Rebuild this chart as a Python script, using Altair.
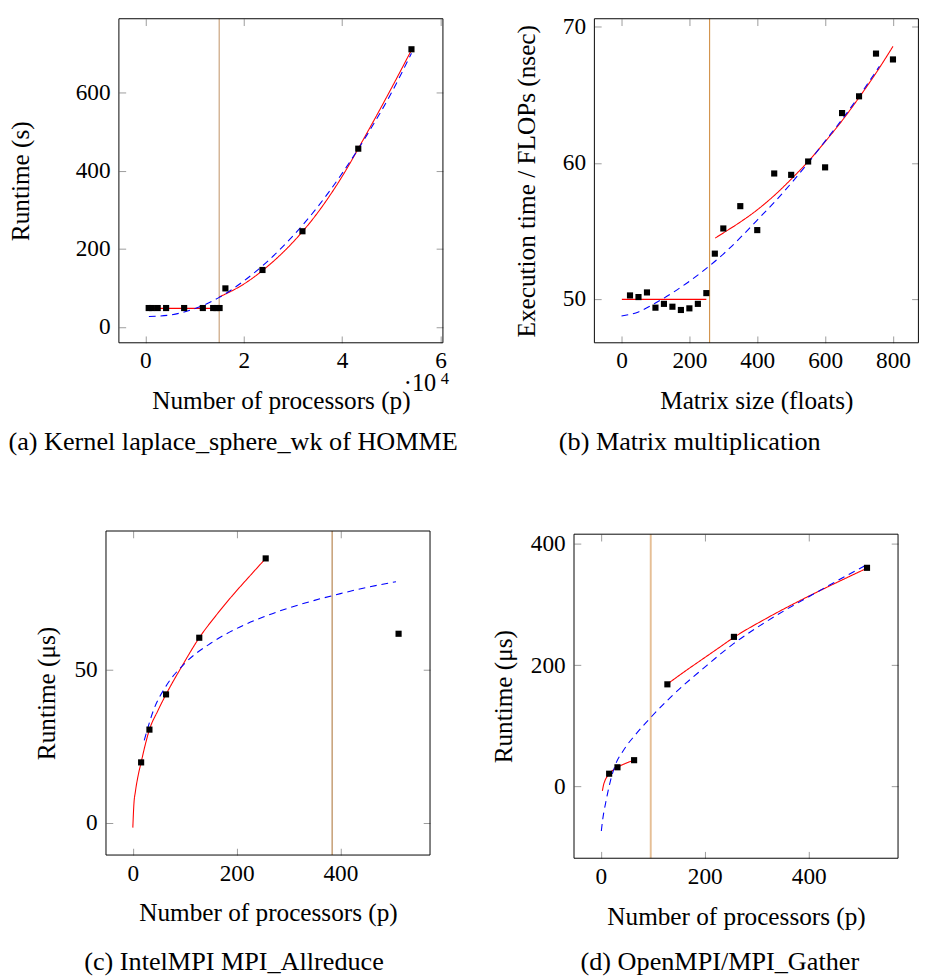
import altair as alt
import pandas as pd

FONT = "Liberation Serif"
LBL = 24
TTL = 26
CAP = 27
RED = "#ff0000"
BLUE = "#0000ff"

# ---------------- (a) Kernel laplace_sphere_wk of HOMME ----------------
a_proc = [660, 1310, 2490, 4200, 7870, 11670, 13770, 14430, 15080, 16260, 23800, 31930, 43280, 54100]
a_time = [48.8, 48.8, 48.8, 48.8, 48.8, 48.8, 48.8, 48.8, 48.8, 99, 146, 245, 456, 710]
a_fit1_x = [660, 15000]
a_fit1_y = [48, 48]
a_fit2_x = [15000, 20000, 25000, 30000, 35000, 40000, 45000, 50000, 54100]
a_fit2_y = [77, 110, 157, 217, 292, 385, 495, 610, 708]
a_model_x = [700, 5000, 10000, 15000, 20000, 25000, 30000, 35000, 40000, 45000, 50000, 54100]
a_model_y = [27, 31, 47, 76, 118, 170, 233, 307, 393, 490, 598, 700]
a_break = 15000

# ---------------- (b) Matrix multiplication ----------------
b_size = [25, 50, 75, 100, 125, 150, 175, 200, 225, 250, 275, 300, 350, 400, 450, 500, 550, 600, 650, 700, 750, 800]
b_time = [50.26, 50.14, 50.48, 49.36, 49.64, 49.43, 49.19, 49.31, 49.64, 50.43, 53.33, 55.18, 56.82, 55.06,
          59.22, 59.12, 60.10, 59.67, 63.66, 64.89, 68.03, 67.60]
b_fit1_x = [1, 250]
b_fit1_y = [49.97, 49.97]
b_fit2_x = [276, 300, 350, 400, 450, 500, 550, 600, 650, 700, 750, 800]
b_fit2_y = [54.47, 54.85, 55.65, 56.55, 57.6, 58.8, 60.1, 61.55, 63.1, 64.8, 66.6, 68.56]
b_model_x = [0, 50, 100, 150, 200, 250, 300, 350, 400, 450, 500, 550, 600, 650, 700, 760]
b_model_y = [48.75, 49.05, 49.7, 50.45, 51.3, 52.25, 53.3, 54.5, 55.8, 57.1, 58.5, 60.0, 61.6, 63.2, 64.9, 67.1]
b_break = 259.5

# ---------------- (c) IntelMPI MPI_Allreduce ----------------
c_proc = [16, 32, 64, 128, 256, 512]
c_time = [19.7, 30.4, 41.9, 60.4, 86.3, 61.7]
c_fit_x = [0, 2, 5, 10, 16, 24, 32, 48, 64, 96, 128, 160, 192, 224, 256]
c_fit_y = [-1.6, 5.9, 10.2, 15.2, 19.7, 25.5, 30.4, 36.5, 41.9, 51.5, 60.4, 67.6, 74.2, 80.3, 86.3]
c_model_x = [22, 40, 64, 100, 150, 200, 250, 300, 350, 400, 450, 507]
c_model_y = [26.9, 36.8, 44.6, 52.0, 58.6, 63.4, 67.1, 70.1, 72.6, 74.8, 76.8, 78.7]
c_break = 384

# ---------------- (d) OpenMPI/MPI_Gather ----------------
d_proc = [16, 32, 64, 128, 256, 512]
d_time = [21.3, 31.9, 43.6, 168.6, 246.8, 360.6]
d_fit1_x = [3, 5, 8, 12, 16, 24, 32, 48, 64]
d_fit1_y = [-7, 2, 10, 16.5, 21.3, 27.5, 31.9, 38.5, 43.6]
d_fit2_x = [128, 160, 192, 224, 256, 320, 384, 448, 512]
d_fit2_y = [169, 189, 208, 227, 246, 278, 307, 334, 360]
d_model_x = [1, 3, 6, 9, 13, 18, 24, 31, 40, 50, 64, 81, 96, 135, 200, 256, 300, 353, 400, 450, 510]
d_model_y = [-73, -58, -41, -28, -11, 8, 26, 42, 55, 68, 83, 100, 114, 148, 197, 236, 262, 290, 313, 337, 365]
d_break = 96

FRAME = 334  # plot frame size in px


def line_table(fits, model):
    rows = []
    for i, (xs, ys) in enumerate(fits):
        for xv, yv in zip(xs, ys):
            rows.append({"x": xv, "y": yv, "series": "fit", "seg": "f%d" % i})
    for xv, yv in zip(*model):
        rows.append({"x": xv, "y": yv, "series": "model", "seg": "m"})
    return pd.DataFrame(rows)


def panel(px, py, fits, model, vline, vcolor, vwidth, xframe, yframe, xticks, yticks,
          xtitle, ytitle, ytitle_pad, caption, caption_dx, caption_off, extra_left=0.0, extra_top=0.0,
          xlabel_expr=None, extra=()):
    xu = (xframe[1] - xframe[0]) / FRAME
    yu = (yframe[1] - yframe[0]) / FRAME
    xdom = [xframe[0] - extra_left * xu, xframe[1]]
    ydom = [yframe[0], yframe[1] + extra_top * yu]
    W = FRAME + extra_left
    H = FRAME + extra_top
    xs = alt.Scale(domain=xdom, nice=False, zero=False)
    ys = alt.Scale(domain=ydom, nice=False, zero=False)
    tick = dict(tickSize=7, tickColor="#9a9a9a", tickWidth=1, domain=False, grid=False)
    xb = dict(orient="bottom", offset=-7, values=xticks, title=xtitle, labelFontSize=LBL,
              labelPadding=7, labelColor="black", titleFontSize=TTL,
              titleFontWeight="normal", titleColor="black", titlePadding=16,
              titleX=extra_left + FRAME / 2, **tick)
    if xlabel_expr:
        xb["labelExpr"] = xlabel_expr
    yl = dict(orient="left", offset=-(7 + extra_left), values=yticks, title=ytitle, labelFontSize=LBL,
              labelPadding=9, labelColor="black", titleFontSize=TTL,
              titleFontWeight="normal", titleColor="black", titlePadding=ytitle_pad,
              titleY=extra_top + FRAME / 2, **tick)
    xt = dict(orient="top", offset=-(7 + extra_top), values=xticks, labels=False, title=None, **tick)
    yr = dict(orient="right", offset=-7, values=yticks, labels=False, title=None, **tick)

    fr = pd.DataFrame({"x1": [xframe[0]], "x2": [xframe[1]], "y1": [yframe[0]], "y2": [yframe[1]],
                       "v": [vline]})
    frame = alt.Chart(fr).mark_rect(filled=False, stroke="black", strokeWidth=1).encode(
        x=alt.X("x1:Q", scale=xs, axis=None), x2="x2:Q",
        y=alt.Y("y1:Q", scale=ys, axis=None), y2="y2:Q")
    rule = alt.Chart(fr).mark_rule(color=vcolor, strokeWidth=vwidth).encode(
        x=alt.X("v:Q", scale=xs, axis=alt.Axis(**xt)),
        y=alt.Y("y1:Q", scale=ys, axis=None), y2="y2:Q")
    lines = alt.Chart(line_table(fits, model)).mark_line(strokeWidth=1.1, interpolate="monotone").encode(
        x=alt.X("x:Q", scale=xs, axis=alt.Axis(**xb)),
        y=alt.Y("y:Q", scale=ys, axis=alt.Axis(**yl)),
        color=alt.Color("series:N", scale=alt.Scale(domain=["fit", "model"], range=[RED, BLUE]), legend=None),
        strokeDash=alt.StrokeDash("series:N", scale=alt.Scale(domain=["fit", "model"], range=[[1, 0], [7, 5]]),
                                  legend=None),
        detail="seg:N",
    )
    pts = alt.Chart(pd.DataFrame({"x": px, "y": py})).mark_square(size=40, color="black", opacity=1).encode(
        x=alt.X("x:Q", scale=xs, axis=None),
        y=alt.Y("y:Q", scale=ys, axis=alt.Axis(**yr)),
    )
    return alt.layer(rule, lines, pts, frame, *extra).properties(
        width=W, height=H,
        title=alt.Title(caption, orient="bottom", anchor="middle", frame="group",
                        fontSize=CAP, fontWeight="normal", color="black", offset=caption_off, dx=caption_dx),
    )


def spacer(x, y):
    return alt.Chart(pd.DataFrame({"t": ["."]})).mark_text(
        color="white", fontSize=3, align="left", baseline="top").encode(
        text="t:N", x=alt.value(x), y=alt.value(y))


exp_df = pd.DataFrame({"t": ["\u00b710"], "s": ["4"]})
exp_main = alt.Chart(exp_df).mark_text(fontSize=LBL + 1, align="left", baseline="alphabetic",
                                       color="black").encode(
    text="t:N", x=alt.value(307), y=alt.value(384))
exp_sup = alt.Chart(exp_df).mark_text(fontSize=17, align="left", baseline="alphabetic",
                                      color="black").encode(
    text="s:N", x=alt.value(345), y=alt.value(376))

pa = panel(a_proc, a_time, [(a_fit1_x, a_fit1_y), (a_fit2_x, a_fit2_y)], (a_model_x, a_model_y),
           a_break, "#c9a27c", 1.2, [-5400, 60500], [-40, 788], [0, 20000, 40000, 60000], [0, 200, 400, 600],
           "Number of processors (p)", "Runtime (s)", 43,
           "(a) Kernel laplace_sphere_wk of HOMME", -42.6, 17, extra_left=13.3,
           xlabel_expr="datum.value / 10000", extra=(exp_main, exp_sup, spacer(40, -4)))

pb = panel(b_size, b_time, [(b_fit1_x, b_fit1_y), (b_fit2_x, b_fit2_y)], (b_model_x, b_model_y),
           b_break, "#d3954f", 1.2, [-80, 875], [46.78, 70.59], [0, 200, 400, 600, 800], [50, 60, 70],
           "Matrix size (floats)", "Execution time / FLOPs (nsec)", 24,
           "(b) Matrix multiplication", -58.2, 17, extra_left=21)

pc = panel(c_proc, c_time, [(c_fit_x, c_fit_y)], (c_model_x, c_model_y),
           c_break, "#b5834f", 1.2, [-51.7, 572.6], [-10.55, 95.25], [0, 200, 400], [0, 50],
           "Number of processors (p)", "Runtime (\u03bcs)", 15,
           "(c) IntelMPI MPI_Allreduce", -35, 24, extra=(spacer(-98, 160),))

pd_ = panel(d_proc, d_time, [(d_fit1_x, d_fit1_y), (d_fit2_x, d_fit2_y)], (d_model_x, d_model_y),
            d_break, "#e6bf96", 2, [-51.6, 571.7], [-118, 416], [0, 200, 400], [0, 200, 400],
            "Number of processors (p)", "Runtime (\u03bcs)", 14,
            "(d) OpenMPI/MPI_Gather", -16.7, 20.7, extra_top=3.3)

chart = alt.concat(pa, pb, pc, pd_, columns=2, bounds="flush",
                   spacing={"row": 194, "column": 134.4}).properties(
    padding={"left": 0, "top": -8, "right": 0, "bottom": 0}
).configure(
    font=FONT,
    view=alt.ViewConfig(stroke="transparent", strokeWidth=0),
    axis=alt.AxisConfig(labelFont=FONT, titleFont=FONT),
    title=alt.TitleConfig(font=FONT),
    text=alt.MarkConfig(font=FONT),
)

chart.save("out.html", embed_options={"renderer": "svg", "actions": False})
